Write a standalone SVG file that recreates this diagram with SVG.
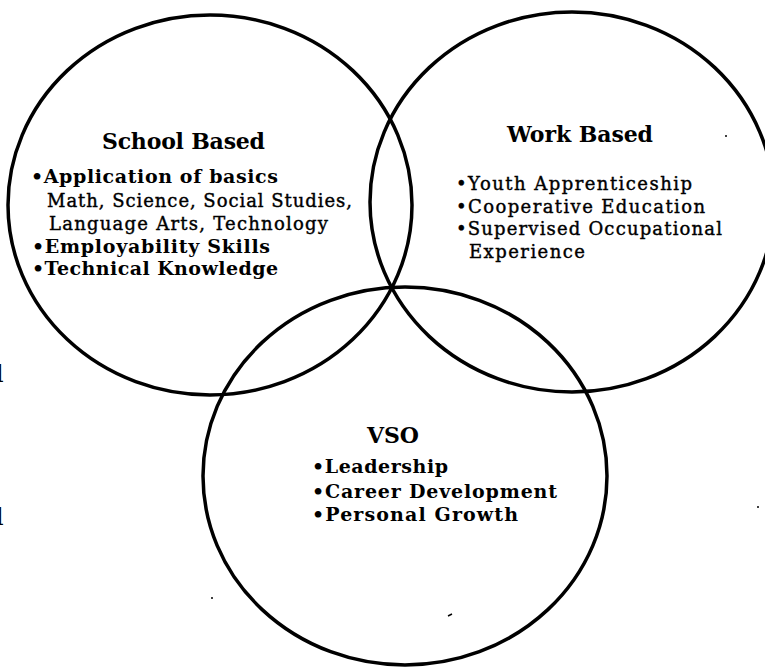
<svg xmlns="http://www.w3.org/2000/svg" width="765" height="667" viewBox="0 0 765 667">
  <style>
    .ring { fill: none; stroke: #000; stroke-width: 3.5; }
    .title { font-family: "DejaVu Serif", "Liberation Serif", serif; font-weight: bold; font-size: 22px; fill: #000; }
    .item-b { font-family: "DejaVu Serif", "Liberation Serif", serif; font-weight: bold; font-size: 19px; fill: #000; }
    .item { font-family: "DejaVu Serif", "Liberation Serif", serif; font-size: 18px; fill: #000; stroke: #000; stroke-width: 0.4; }
    .edge { font-family: "DejaVu Serif", "Liberation Serif", serif; font-size: 24px; fill: #000; }
    .speck { fill: #000; }
  </style>
  <rect width="765" height="667" fill="#fff"/>

  <!-- School Based -->
  <g id="school-based">
    <ellipse class="ring" cx="210" cy="205" rx="202" ry="190"/>
    <text class="title" x="102" y="149" textLength="163">School Based</text>
    <text class="item-b" x="31" y="183" textLength="247">•Application of basics</text>
    <text class="item" x="47" y="207" textLength="305">Math, Science, Social Studies,</text>
    <text class="item" x="49" y="230" textLength="279">Language Arts, Technology</text>
    <text class="item-b" x="32" y="253" textLength="238">•Employability Skills</text>
    <text class="item-b" x="32" y="275" textLength="246">•Technical Knowledge</text>
  </g>

  <!-- Work Based -->
  <g id="work-based">
    <ellipse class="ring" cx="572" cy="202" rx="202" ry="190"/>
    <text class="title" x="507" y="142" textLength="146">Work Based</text>
    <text class="item" x="456" y="190" textLength="236">•Youth Apprenticeship</text>
    <text class="item" x="456" y="213" textLength="249">•Cooperative Education</text>
    <text class="item" x="456" y="235" textLength="266">•Supervised Occupational</text>
    <text class="item" x="469" y="258" textLength="116">Experience</text>
  </g>

  <!-- VSO -->
  <g id="vso">
    <ellipse class="ring" cx="405" cy="476" rx="202" ry="189"/>
    <text class="title" x="367" y="443" textLength="52">VSO</text>
    <text class="item-b" x="312" y="473" textLength="136">•Leadership</text>
    <text class="item-b" x="312" y="498" textLength="245">•Career Development</text>
    <text class="item-b" x="312" y="521" textLength="206">•Personal Growth</text>
  </g>

  <!-- letters cut off at the left margin, and small marks -->
  <g id="margin">
    <text class="edge" x="-4" y="382">l</text>
    <text class="edge" x="-4" y="525">l</text>
    <circle class="speck" cx="726" cy="136" r="1"/>
    <circle class="speck" cx="212" cy="598" r="1"/>
    <circle class="speck" cx="758" cy="507" r="1"/>
    <path d="M448 616 L452 614" stroke="#000" stroke-width="1.5"/>
  </g>
</svg>
